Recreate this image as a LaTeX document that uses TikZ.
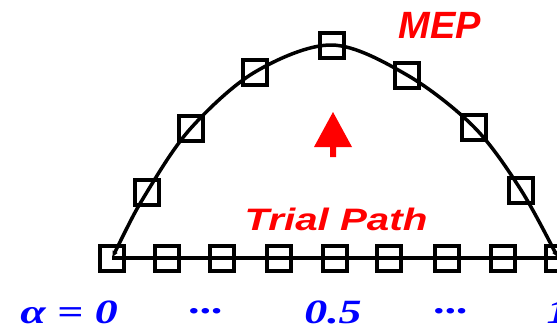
\documentclass[tikz,border=0pt]{standalone}
\usepackage{fontspec}
\setmainfont{Liberation Serif}
\newfontfamily\arialfont{Liberation Sans}
\usetikzlibrary{arrows.meta}
\definecolor{pathred}{RGB}{255,0,0}
\definecolor{labelblue}{RGB}{0,0,255}
\tikzset{
  sq/.style={draw=black, line width=4pt, minimum width=24pt, minimum height=25pt, inner sep=0pt, outer sep=0pt},
  pathline/.style={line width=3.5pt, draw=black},
  redlbl/.style={text=pathred, anchor=base, inner sep=0pt},
  bluelbl/.style={text=labelblue, anchor=base, inner sep=0pt, font=\fontsize{34}{36}\selectfont\bfseries\itshape},
}
\begin{document}
\begin{tikzpicture}[x=1pt,y=-1pt]
\useasboundingbox (0,0) rectangle (557,330);
% baseline (trial path) images
\foreach \i/\x in {0/112,1/167,2/222,3/279,4/335,5/389,6/447,7/503,8/558}
  \node[sq] (b\i) at (\x,258) {};
% MEP images
\node[sq] (c1) at (147,192) {};
\node[sq] (c2) at (191,128) {};
\node[sq] (c3) at (255,72) {};
\node[sq] (c4) at (332,45) {};
\node[sq] (c5) at (407,75) {};
\node[sq] (c6) at (474,127) {};
\node[sq] (c7) at (521,190) {};
% trial path line
\draw[pathline] (b0.center) -- (b8.center);
% MEP curve
\draw[pathline, {Latex[length=7pt,width=6pt]}-{Latex[length=7pt,width=6pt]}]
  plot[smooth, tension=0.55] coordinates {(b0.center) (c1.center) (c2.center) (c3.center) (c4.center) (c5.center) (c6.center) (c7.center) (b8.center)};
% red upward arrow
\fill[pathred] (333,112) -- (352,147) -- (336,147) -- (336,157) -- (330,157) -- (330,147) -- (314,147) -- cycle;
% labels
\node[redlbl, font=\arialfont\fontsize{38}{40}\selectfont\bfseries\itshape] (mep) at (440,38) {MEP};
\node[redlbl, font=\arialfont\fontsize{31}{33}\selectfont\bfseries\itshape] (trial) at (336,230) {\scalebox{1.3}[1]{Trial Path}};
\node[bluelbl] (a0) at (69,323) {\scalebox{1.35}[1]{α = 0}};
\node[bluelbl] (d1) at (207,313) {\scalebox{1.35}[1]{...}};
\node[bluelbl] (a5) at (333,323) {\scalebox{1.35}[1]{0.5}};
\node[bluelbl] (d2) at (452,313) {\scalebox{1.35}[1]{...}};
\node[bluelbl] (a1) at (558,323) {\scalebox{1.35}[1]{1}};
\end{tikzpicture}
\end{document}
